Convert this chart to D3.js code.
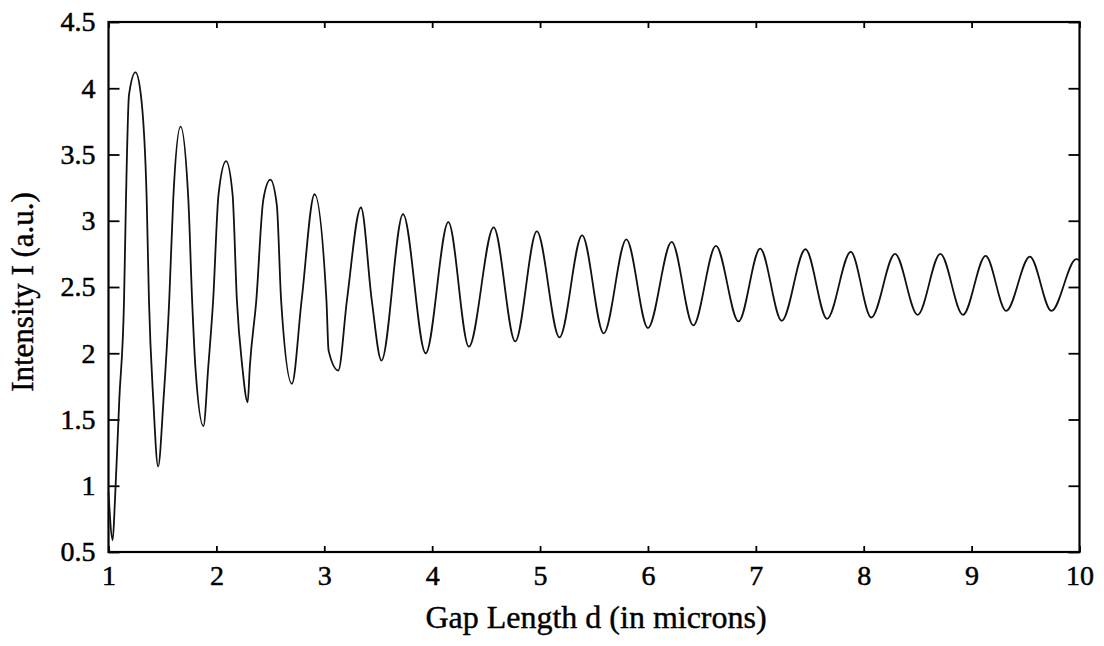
<!DOCTYPE html>
<html>
<head>
<meta charset="utf-8">
<script src="https://cdn.jsdelivr.net/npm/d3@7"></script>
<style>
  html, body { margin: 0; padding: 0; background: #fff; }
  svg { display: block; }
  text { font-family: "Liberation Serif", "Times New Roman", "DejaVu Serif", serif; fill: #000; }
</style>
</head>
<body>
<svg id="chart" width="1104" height="646"></svg>
<script>
// ---- data ----
const gapLength = [
  1.00, 1.039, 1.06, 1.10, 1.144, 1.162, 1.19, 1.25, 1.30, 1.354, 1.375, 1.415, 1.46,
  1.51, 1.563, 1.60, 1.668, 1.74, 1.775, 1.805, 1.88, 1.925, 1.97, 2.02, 2.09, 2.15,
  2.19, 2.24, 2.29, 2.31, 2.37, 2.435, 2.50, 2.56, 2.60, 2.70, 2.79, 2.91, 3.02, 3.04,
  3.13, 3.21, 3.34, 3.44, 3.53, 3.73, 3.94, 4.15, 4.34, 4.57, 4.77, 4.97, 5.18, 5.39,
  5.59, 5.80, 6.00, 6.22, 6.42, 6.63, 6.84, 7.04, 7.24, 7.46, 7.66, 7.88, 8.07, 8.29,
  8.50, 8.71, 8.92, 9.13, 9.32, 9.54, 9.74, 9.97, 10.0
];
const intensity = [
  0.95, 0.59, 0.89, 1.65, 2.40, 3.16, 3.95, 4.12, 3.95, 3.16, 2.40, 1.65, 1.145,
  1.65, 2.40, 3.16, 3.71, 3.16, 2.40, 1.90, 1.45, 1.90, 2.40, 3.20, 3.45, 3.20,
  2.40, 1.90, 1.63, 1.90, 2.40, 3.16, 3.31, 3.12, 2.40, 1.77, 2.40, 3.20, 2.40, 2.02,
  1.87, 2.40, 3.10, 2.40, 1.945, 3.05, 2.00, 2.99, 2.05, 2.95, 2.09, 2.92, 2.12, 2.89,
  2.15, 2.86, 2.19, 2.84, 2.21, 2.81, 2.24, 2.79, 2.245, 2.785, 2.26, 2.765, 2.27, 2.75,
  2.29, 2.75, 2.29, 2.735, 2.32, 2.73, 2.32, 2.71, 2.70
];
const xTicks = [1, 2, 3, 4, 5, 6, 7, 8, 9, 10];
const yTicks = [0.5, 1, 1.5, 2, 2.5, 3, 3.5, 4, 4.5];
const xTitle = "Gap Length d (in microns)";
const yTitle = "Intensity I (a.u.)";

// ---- layout ----
const FONT = '"Liberation Serif", "Times New Roman", "DejaVu Serif", serif';
const svg = d3.select("#chart");
const plotL = 108.5, plotR = 1079.5, plotT = 22, plotB = 552;

const x = d3.scaleLinear().domain([1, 10]).range([plotL, plotR]);
const y = d3.scaleLinear().domain([0.5, 4.5]).range([plotB, plotT]);

const fmt = d3.format("~g");

// axes (ticks pointing inward)
function styleAxis(g) {
  g.attr("font-family", FONT).attr("font-size", 28);
  g.select(".domain").remove();
  g.selectAll(".tick line").attr("stroke", "#000").attr("stroke-width", 1.8);
  g.selectAll(".tick text")
    .attr("font-size", 28).attr("fill", "#000")
    .attr("stroke", "#000").attr("stroke-width", 0.5)
    .style("font-family", FONT);
}

svg.append("g").attr("transform", `translate(0,${plotB})`)
  .call(d3.axisBottom(x).tickValues(xTicks).tickFormat(fmt).tickSize(-6).tickPadding(13.5))
  .call(styleAxis);
svg.append("g").attr("transform", `translate(0,${plotT})`)
  .call(d3.axisTop(x).tickValues(xTicks).tickFormat("").tickSize(-6))
  .call(styleAxis);
svg.append("g").attr("transform", `translate(${plotL},0)`)
  .call(d3.axisLeft(y).tickValues(yTicks).tickFormat(fmt).tickSize(-11).tickPadding(13))
  .call(styleAxis);
svg.append("g").attr("transform", `translate(${plotR},0)`)
  .call(d3.axisRight(y).tickValues(yTicks).tickFormat("").tickSize(-11))
  .call(styleAxis);

// frame
svg.append("rect")
  .attr("x", plotL).attr("y", plotT)
  .attr("width", plotR - plotL).attr("height", plotB - plotT)
  .attr("fill", "none").attr("stroke", "#000").attr("stroke-width", 2.2);

// curve
const pts = gapLength.map((d, i) => [d, intensity[i]]);
const line = d3.line()
  .x(d => x(d[0])).y(d => y(d[1]))
  .curve(d3.curveMonotoneX);
svg.append("path")
  .datum(pts)
  .attr("d", line)
  .attr("fill", "none")
  .attr("stroke", "#111")
  .attr("stroke-width", 1.8)
  .attr("stroke-linejoin", "round");

// titles
svg.append("text")
  .attr("x", (plotL + plotR) / 2 + 2).attr("y", 628)
  .attr("text-anchor", "middle").attr("font-size", 32)
  .attr("stroke", "#000").attr("stroke-width", 0.4)
  .style("font-family", FONT)
  .text(xTitle);
svg.append("text")
  .attr("transform", `translate(33,${(plotT + plotB) / 2 + 5}) rotate(-90)`)
  .attr("text-anchor", "middle").attr("font-size", 31)
  .attr("stroke", "#000").attr("stroke-width", 0.4)
  .style("font-family", FONT)
  .text(yTitle);
</script>
</body>
</html>
